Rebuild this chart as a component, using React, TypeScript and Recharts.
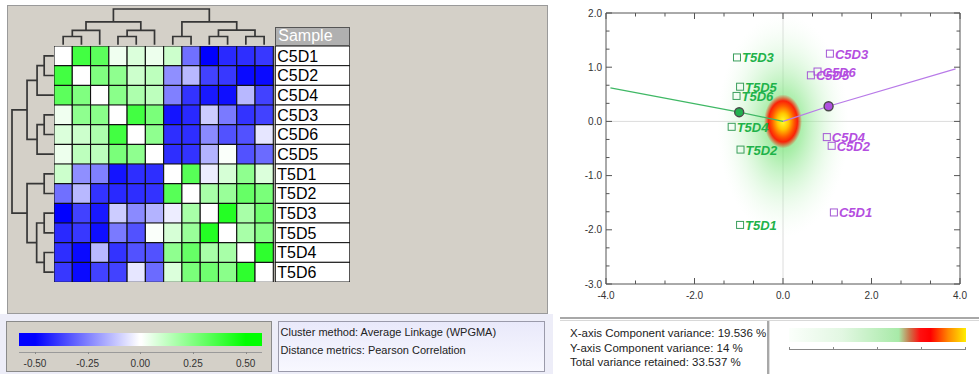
import React from 'react';
import { BarChart, Bar, Cell, XAxis, YAxis, ScatterChart, Scatter, ReferenceLine } from 'recharts';

const FONT = '"Liberation Sans", Arial, sans-serif';

// sample order as shown next to the heatmap (also the column order)
const samples = ['C5D1', 'C5D2', 'C5D4', 'C5D3', 'C5D6', 'C5D5', 'T5D1', 'T5D2', 'T5D3', 'T5D5', 'T5D4', 'T5D6'];

// pairwise correlation, diagonal left blank (white)
const corr: (number | null)[][] = [
  [null, 0.37, 0.32, 0.03, 0.07, 0.035, 0.1, -0.28, -0.5, -0.42, -0.41, -0.39],
  [0.37, null, 0.25, 0.22, 0.1, 0.13, -0.22, -0.14, -0.37, -0.39, -0.48, -0.48],
  [0.32, 0.25, null, 0.23, 0.16, 0.13, -0.25, -0.4, -0.45, -0.47, -0.14, -0.37],
  [0.03, 0.22, 0.23, null, 0.37, 0.26, -0.46, -0.42, -0.1, -0.26, -0.4, -0.37],
  [0.07, 0.1, 0.16, 0.37, null, 0.22, -0.41, -0.41, -0.23, -0.34, -0.34, -0.05],
  [0.035, 0.13, 0.13, 0.26, 0.22, null, -0.41, -0.4, -0.15, 0.01, -0.34, -0.29],
  [0.1, -0.22, -0.25, -0.46, -0.41, -0.41, null, 0.33, -0.035, 0.08, 0.22, 0.07],
  [-0.28, -0.14, -0.4, -0.42, -0.41, -0.4, 0.33, null, 0.17, 0.2, 0.3, 0.26],
  [-0.5, -0.37, -0.45, -0.1, -0.23, -0.15, -0.035, 0.17, null, 0.43, 0.17, 0.28],
  [-0.42, -0.39, -0.47, -0.26, -0.34, 0.01, 0.08, 0.2, 0.43, null, 0.17, 0.23],
  [-0.41, -0.48, -0.14, -0.4, -0.34, -0.34, 0.22, 0.3, 0.17, 0.17, null, 0.41],
  [-0.39, -0.48, -0.37, -0.37, -0.05, -0.29, 0.07, 0.26, 0.28, 0.23, 0.41, null],
];

// dendrogram merges: [a, b, height]; ids 0-11 are leaves, 12+ are earlier merges
const merges: [number, number, number][] = [
  [0, 1, 0.23], [12, 2, 0.4], [3, 4, 0.23], [14, 5, 0.4], [13, 15, 0.64],
  [6, 7, 0.23], [8, 9, 0.23], [10, 11, 0.23], [18, 19, 0.41], [17, 20, 0.64], [16, 21, 1],
];

const heatTicks = [-0.5, -0.25, 0, 0.25, 0.5];
const heatTickLabels = ['-0.50', '-0.25', '0.00', '0.25', '0.50'];

// PCA scores
const tPoints = [
  { name: 'T5D3', x: -1.04, y: 1.18 },
  { name: 'T5D5', x: -0.97, y: 0.64 },
  { name: 'T5D6', x: -1.05, y: 0.47 },
  { name: 'T5D4', x: -1.16, y: -0.1 },
  { name: 'T5D2', x: -0.96, y: -0.52 },
  { name: 'T5D1', x: -0.97, y: -1.91 },
];
const cPoints = [
  { name: 'C5D3', x: 1.06, y: 1.25 },
  { name: 'C5D6', x: 0.78, y: 0.92 },
  { name: 'C5D5', x: 0.63, y: 0.85 },
  { name: 'C5D4', x: 0.99, y: -0.29 },
  { name: 'C5D2', x: 1.1, y: -0.45 },
  { name: 'C5D1', x: 1.15, y: -1.68 },
];
const tVector = [{ x: -3.9, y: 0.62 }, { x: -0.99, y: 0.17, dot: true }, { x: 0, y: 0 }];
const cVector = [{ x: 0, y: 0 }, { x: 1.03, y: 0.28, dot: true }, { x: 3.9, y: 0.97 }];
const density = [{ x: 0, y: 0 }];

const xMajor = [-4, -2, 0, 2, 4];
const xMinor = [-3.333, -2.667, -1.333, -0.667, 0.667, 1.333, 2.667, 3.333];
const yMajor = [-3, -2, -1, 0, 1, 2];
const yMinor = [-2.667, -2.333, -1.667, -1.333, -0.667, -0.333, 0.333, 0.667, 1.333, 1.667];

const varianceLines = [
  'X-axis Component variance: 19.536 %',
  'Y-axis Component variance: 14 %',
  'Total variance retained: 33.537 %',
];
const infoLines = ['Cluster method: Average Linkage (WPGMA)', 'Distance metrics: Pearson Correlation'];

const GREEN = '#1fb24a';
const PURPLE = '#b44ee0';

function heatColor(v: number | null) {
  if (v == null) return '#ffffff';
  const t = Math.min(1, Math.abs(v) / 0.5);
  const c = Math.round(255 * (1 - t));
  return v < 0 ? `rgb(${c},${c},255)` : `rgb(${c},255,${c})`;
}

function buildBrackets() {
  const pos: number[] = samples.map((_, i) => i + 0.5);
  const hgt: number[] = samples.map(() => 0);
  return merges.map(([a, b, h]) => {
    const seg = [
      { p: pos[a], h: hgt[a] },
      { p: pos[a], h },
      { p: pos[b], h },
      { p: pos[b], h: hgt[b] },
    ];
    pos.push((pos[a] + pos[b]) / 2);
    hgt.push(h);
    return seg;
  });
}
const brackets = buildBrackets();

const heatRows = samples.map((name, i) => {
  const row: Record<string, any> = { name };
  corr[i].forEach((_, j) => (row['c' + j] = 1));
  return row;
});

const noShape = () => <g />;
const treeLine = { stroke: '#363636', strokeWidth: 1.7 };

const SampleTick = (props: any) => {
  const { x, y, payload } = props;
  return (
    <g>
      <rect x={x + 2} y={y - 9.83} width={74.5} height={19.67} fill="#fff" stroke="#111" strokeWidth={1} />
      <text x={x + 4} y={y + 6} fontSize={16} fill="#000" fontFamily={FONT}>{payload.value}</text>
    </g>
  );
};

const tickStroke = '#555';
const BottomTick = (props: any) => {
  const { x, y, payload } = props;
  const major = xMajor.includes(payload.value);
  return (
    <g>
      <line x1={x} y1={y} x2={x} y2={y - (major ? 6 : 3.5)} stroke={tickStroke} />
      {major && (
        <text x={x} y={y + 15} textAnchor="middle" fontSize={10} fill="#333" fontFamily={FONT}>
          {payload.value.toFixed(1)}
        </text>
      )}
    </g>
  );
};
const TopTick = (props: any) => {
  const { x, y, payload } = props;
  const major = xMajor.includes(payload.value);
  return <line x1={x} y1={y} x2={x} y2={y + (major ? 6 : 3.5)} stroke={tickStroke} />;
};
const LeftTick = (props: any) => {
  const { x, y, payload } = props;
  const major = yMajor.includes(payload.value);
  return (
    <g>
      <line x1={x} y1={y} x2={x + (major ? 6 : 3.5)} y2={y} stroke={tickStroke} />
      {major && (
        <text x={x - 4} y={y + 3.5} textAnchor="end" fontSize={10} fill="#333" fontFamily={FONT}>
          {payload.value.toFixed(1)}
        </text>
      )}
    </g>
  );
};
const RightTick = (props: any) => {
  const { x, y, payload } = props;
  const major = yMajor.includes(payload.value);
  return <line x1={x} y1={y} x2={x - (major ? 6 : 3.5)} y2={y} stroke={tickStroke} />;
};

const DensityBlob = (props: any) => {
  const { cx, cy } = props;
  return (
    <g>
      <ellipse cx={cx} cy={cy + 4} rx={66} ry={112} fill="url(#greenGlow)" />
      <ellipse cx={cx} cy={cy} rx={19} ry={27} fill="url(#hotGlow)" />
    </g>
  );
};

const vectorDot = (fill: string) => (props: any) => {
  const { cx, cy, payload } = props;
  if (!payload.dot) return <g />;
  return <circle cx={cx} cy={cy} r={4.5} fill={fill} stroke="#4a4a4a" strokeWidth={1.4} />;
};

const samplePoint = (color: string, box: string) => (props: any) => {
  const { cx, cy, payload } = props;
  return (
    <g>
      <rect x={cx - 3.5} y={cy - 3.5} width={7} height={7} fill="none" stroke={box} strokeWidth={1} />
      <text x={cx + 5} y={cy + 5} fill={color} fontSize={13} fontWeight="bold" fontStyle="italic" fontFamily={FONT}>
        {payload.name}
      </text>
    </g>
  );
};

const abs = (l: number, t: number, w: number, h: number, extra: React.CSSProperties = {}): React.CSSProperties => ({
  position: 'absolute', left: l, top: t, width: w, height: h, boxSizing: 'border-box', ...extra,
});

export default function App() {
  const heatX = (v: number) => 18.6 + ((v + 0.578) / 1.156) * 243.5;
  return (
    <div style={{ position: 'absolute', left: 0, top: 0, width: 979, height: 374, background: '#fff', overflow: 'hidden', fontFamily: FONT }}>
      {/* left cluster panel */}
      <div style={abs(0, 314, 553, 60, { background: '#ededf8' })} />
      <div style={abs(7, 5, 541, 309, { background: '#d4d0c8', border: '1px solid #9a9a9a' })} />

      {/* top dendrogram */}
      <div style={abs(54, 7.3, 219.3, 38.7)}>
        <ScatterChart width={219.3} height={38.7} margin={{ top: 2, right: 0, bottom: 1, left: 0 }}>
          <XAxis type="number" dataKey="p" domain={[0, 12]} hide />
          <YAxis type="number" dataKey="h" domain={[0, 1]} hide />
          {brackets.map((seg, k) => (
            <Scatter key={k} data={seg} line={treeLine} shape={noShape} isAnimationActive={false} />
          ))}
        </ScatterChart>
      </div>

      {/* left dendrogram */}
      <div style={abs(10.7, 45.7, 43.8, 236)}>
        <ScatterChart width={43.8} height={236} margin={{ top: 0, right: 1, bottom: 0, left: 1 }}>
          <XAxis type="number" dataKey="h" domain={[0, 1]} reversed hide />
          <YAxis type="number" dataKey="p" domain={[0, 12]} reversed hide />
          {brackets.map((seg, k) => (
            <Scatter key={k} data={seg} line={treeLine} shape={noShape} isAnimationActive={false} />
          ))}
        </ScatterChart>
      </div>

      {/* heatmap + sample names */}
      <div style={abs(275.3, 27.3, 74.7, 18.6, { background: '#b0b0b0', border: '1px solid #555', color: '#fff', fontSize: 16, lineHeight: '16px', paddingLeft: 2 })}>
        Sample
      </div>
      <div style={abs(54, 45.7, 296.3, 236)}>
        <BarChart layout="vertical" width={296.3} height={236} data={heatRows} margin={{ top: 0, right: 0, bottom: 0, left: 0 }} barCategoryGap={0} barGap={0}>
          <XAxis type="number" domain={[0, 12]} hide />
          <YAxis type="category" dataKey="name" orientation="right" width={77} axisLine={false} tickLine={false} tickSize={0} tickMargin={0} interval={0} tick={<SampleTick />} />
          {samples.map((_, j) => (
            <Bar key={j} dataKey={'c' + j} stackId="h" stroke="#111" strokeWidth={1.1} isAnimationActive={false}>
              {corr.map((row, i) => (
                <Cell key={i} fill={heatColor(row[j])} />
              ))}
            </Bar>
          ))}
        </BarChart>
      </div>

      {/* colour scale */}
      <div style={abs(6, 321, 266, 51, { background: '#d4d0c8', border: '1px solid #8a8a8a' })} />
      <div style={abs(18.6, 333, 243.5, 13, { background: 'linear-gradient(to right, #0000ff 0%, #0000ff 6.7%, #ffffff 49.6%, #ffffff 50.4%, #00ff00 93.3%, #00ff00 100%)' })} />
      <div style={abs(18.6, 351.5, 243.5, 1, { background: '#9a9a9a' })} />
      {heatTicks.map((v, i) => (
        <React.Fragment key={v}>
          <div style={abs(heatX(v), 352, 1, 2, { background: '#888' })} />
          <div style={abs(heatX(v) - 20, 357, 40, 13, { fontSize: 10, lineHeight: '13px', textAlign: 'center', color: '#333' })}>
            {heatTickLabels[i]}
          </div>
        </React.Fragment>
      ))}

      {/* method text */}
      <div style={abs(278, 321, 267, 51, { background: 'linear-gradient(#e9e9fa, #f8f8ff)', border: '1px solid #9a9aaa' })} />
      {infoLines.map((t, i) => (
        <div key={t} style={abs(280.5, 325 + i * 17.8, 264, 14, { fontSize: 11, lineHeight: '14px', color: '#222', whiteSpace: 'nowrap' })}>{t}</div>
      ))}

      {/* PCA scores plot */}
      <div style={abs(560, 0, 419, 310)}>
        <ScatterChart width={419} height={310} margin={{ top: 0, right: 0, bottom: 0, left: 0 }}>
          <defs>
            <radialGradient id="greenGlow">
              <stop offset="0%" stopColor="rgb(100,222,100)" stopOpacity={0.9} />
              <stop offset="30%" stopColor="rgb(130,230,130)" stopOpacity={0.62} />
              <stop offset="65%" stopColor="rgb(180,240,180)" stopOpacity={0.3} />
              <stop offset="100%" stopColor="rgb(230,250,230)" stopOpacity={0} />
            </radialGradient>
            <radialGradient id="hotGlow">
              <stop offset="0%" stopColor="#ffff30" />
              <stop offset="30%" stopColor="#ffc800" />
              <stop offset="58%" stopColor="#ff5a00" />
              <stop offset="76%" stopColor="#ff1800" stopOpacity={0.95} />
              <stop offset="100%" stopColor="#ff2000" stopOpacity={0} />
            </radialGradient>
          </defs>
          <XAxis xAxisId="b" type="number" dataKey="x" domain={[-4, 4]} allowDataOverflow ticks={[...xMajor, ...xMinor].sort((a, b) => a - b)} interval={0} height={26} tickSize={0} tickMargin={0} tickLine={false} axisLine={{ stroke: '#555' }} tick={<BottomTick />} />
          <XAxis xAxisId="t" orientation="top" type="number" dataKey="x" domain={[-4, 4]} allowDataOverflow ticks={[...xMajor, ...xMinor].sort((a, b) => a - b)} interval={0} height={13} tickSize={0} tickMargin={0} tickLine={false} axisLine={{ stroke: '#555' }} tick={<TopTick />} />
          <YAxis yAxisId="l" type="number" dataKey="y" domain={[-3, 2]} allowDataOverflow ticks={[...yMajor, ...yMinor].sort((a, b) => a - b)} interval={0} width={46} tickSize={0} tickMargin={0} tickLine={false} axisLine={{ stroke: '#555' }} tick={<LeftTick />} />
          <YAxis yAxisId="r" orientation="right" type="number" dataKey="y" domain={[-3, 2]} allowDataOverflow ticks={[...yMajor, ...yMinor].sort((a, b) => a - b)} interval={0} width={19} tickSize={0} tickMargin={0} tickLine={false} axisLine={{ stroke: '#555' }} tick={<RightTick />} />
          <ReferenceLine xAxisId="b" yAxisId="l" x={0} stroke="#dcdcdc" />
          <ReferenceLine xAxisId="b" yAxisId="l" y={0} stroke="#dcdcdc" />
          <Scatter xAxisId="t" yAxisId="r" data={density} shape={DensityBlob} isAnimationActive={false} />
          <Scatter xAxisId="b" yAxisId="l" data={tVector} line={{ stroke: '#3fb865', strokeWidth: 1.2 }} shape={vectorDot('#22b050')} isAnimationActive={false} />
          <Scatter xAxisId="b" yAxisId="l" data={cVector} line={{ stroke: '#b87ae8', strokeWidth: 1.2 }} shape={vectorDot('#b050e0')} isAnimationActive={false} />
          <Scatter xAxisId="b" yAxisId="l" data={tPoints} shape={samplePoint(GREEN, '#3a9e5c')} isAnimationActive={false} />
          <Scatter xAxisId="b" yAxisId="l" data={cPoints} shape={samplePoint(PURPLE, '#a458d4')} isAnimationActive={false} />
        </ScatterChart>
      </div>

      {/* variance panel */}
      <div style={abs(560, 317, 419, 4, { borderTop: '2px solid #a8a8a8', borderBottom: '1px solid #d8d8d8' })} />
      <div style={abs(767, 321, 3, 53, { borderLeft: '2px solid #a8a8a8', borderRight: '1px solid #dddddd' })} />
      {varianceLines.map((t, i) => (
        <div key={t} style={abs(570, 326 + i * 14.5, 196, 14, { fontSize: 11.5, lineHeight: '14px', color: '#222', whiteSpace: 'nowrap' })}>{t}</div>
      ))}
      <div style={abs(789, 328, 177, 14, { background: 'linear-gradient(to right, #fbfffb 0%, #e2f7e2 30%, #a8eaa8 62%, #c8784c 68%, #ff1010 74%, #ff0000 80%, #ff8800 90%, #ffee00 100%)' })} />
      <div style={abs(789, 348.5, 177, 1, { background: '#888' })} />
      {[0, 0.25, 0.5, 0.75, 1].map((f) => (
        <div key={f} style={abs(789 + f * 176, 346.5, 1, 2, { background: '#888' })} />
      ))}
    </div>
  );
}
